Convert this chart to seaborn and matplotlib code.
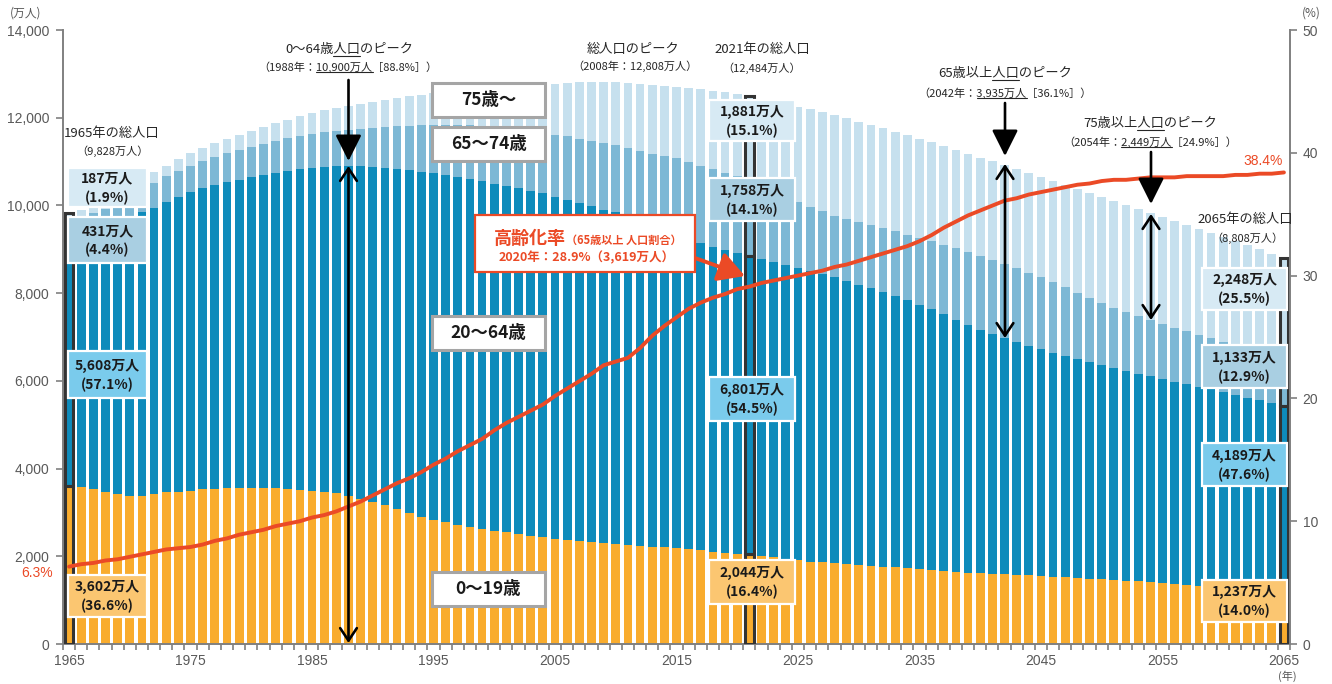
import numpy as np
import matplotlib
matplotlib.use("Agg")
import matplotlib.pyplot as plt
from matplotlib.patches import Rectangle
from matplotlib.lines import Line2D
import seaborn as sns

# ---------------------------------------------------------------- data (万人)
years = np.arange(1965, 2066)

age_0_19 = [
    3602, 3587, 3534, 3473, 3420, 3374, 3374, 3420, 3458, 3473,
    3496, 3527, 3542, 3550, 3557, 3557, 3550, 3550, 3534, 3512,
    3489, 3473, 3435, 3374, 3298, 3245, 3169, 3078, 2987, 2903,
    2835, 2775, 2714, 2668, 2622, 2577, 2547, 2508, 2470, 2432,
    2394, 2364, 2341, 2318, 2296, 2280, 2257, 2234, 2219, 2204,
    2181, 2166, 2143, 2105, 2075, 2052, 2044, 2006, 1975, 1940,
    1905, 1877, 1860, 1842, 1820, 1801, 1783, 1765, 1747, 1729,
    1710, 1690, 1670, 1650, 1630, 1611, 1598, 1586, 1574, 1562,
    1550, 1535, 1520, 1505, 1490, 1474, 1459, 1444, 1428, 1413,
    1398, 1375, 1352, 1330, 1315, 1300, 1287, 1275, 1262, 1250,
    1237,
]

age_20_64 = [
    5608, 5670, 5821, 5976, 6123, 6354, 6468, 6528, 6614, 6719,
    6811, 6866, 6919, 6975, 7027, 7084, 7140, 7184, 7250, 7317,
    7369, 7410, 7463, 7526, 7592, 7623, 7676, 7752, 7820, 7868,
    7896, 7909, 7926, 7928, 7926, 7912, 7898, 7878, 7868, 7859,
    7807, 7766, 7716, 7668, 7606, 7578, 7551, 7446, 7332, 7220,
    7141, 7059, 6995, 6956, 6913, 6862, 6801, 6776, 6743, 6709,
    6672, 6628, 6574, 6517, 6460, 6396, 6331, 6262, 6188, 6111,
    6030, 5939, 5844, 5746, 5650, 5560, 5475, 5392, 5316, 5244,
    5173, 5110, 5049, 4989, 4932, 4877, 4827, 4780, 4734, 4688,
    4642, 4606, 4570, 4533, 4489, 4444, 4395, 4344, 4293, 4238,
    4189,
]

age_65_74 = [
    431, 455, 467, 479, 499, 518, 544, 574, 588, 599,
    603, 616, 638, 660, 682, 699, 714, 733, 743, 754,
    776, 786, 802, 825, 857, 896, 942, 978, 1015, 1062,
    1109, 1156, 1200, 1241, 1267, 1303, 1338, 1359, 1377, 1378,
    1412, 1443, 1456, 1477, 1511, 1529, 1504, 1560, 1630, 1708,
    1755, 1759, 1765, 1759, 1744, 1747, 1758, 1712, 1627, 1547,
    1497, 1463, 1432, 1409, 1415, 1428, 1441, 1457, 1475, 1496,
    1522, 1557, 1594, 1630, 1662, 1682, 1687, 1686, 1677, 1662,
    1642, 1605, 1562, 1517, 1470, 1424, 1385, 1348, 1315, 1284,
    1258, 1235, 1214, 1193, 1173, 1153, 1142, 1136, 1133, 1133,
    1133,
]

age_75_over = [
    187, 192, 198, 205, 212, 221, 228, 238, 250, 266,
    284, 300, 318, 334, 350, 366, 386, 406, 427, 448,
    471, 497, 524, 550, 574, 597, 623, 649, 672, 694,
    717, 746, 776, 810, 852, 901, 949, 1004, 1054, 1110,
    1164, 1217, 1290, 1345, 1390, 1419, 1471, 1519, 1560, 1592,
    1632, 1700, 1750, 1798, 1845, 1872, 1881, 1937, 2030, 2120,
    2180, 2222, 2258, 2288, 2290, 2288, 2283, 2278, 2273, 2267,
    2260, 2252, 2246, 2241, 2238, 2239, 2243, 2249, 2256, 2265,
    2277, 2302, 2331, 2361, 2390, 2417, 2432, 2442, 2447, 2449,
    2446, 2438, 2427, 2415, 2401, 2387, 2365, 2338, 2309, 2278,
    2248,
]

# 高齢化率 (%)
aging_rate = [
    6.3, 6.5, 6.6, 6.8, 6.9, 7.1, 7.3, 7.5, 7.7, 7.8,
    7.9, 8.1, 8.4, 8.6, 8.9, 9.1, 9.3, 9.6, 9.8, 10.0,
    10.3, 10.5, 10.8, 11.2, 11.6, 12.1, 12.6, 13.1, 13.5, 14.0,
    14.6, 15.1, 15.7, 16.2, 16.7, 17.4, 18.0, 18.5, 19.0, 19.5,
    20.2, 20.8, 21.4, 22.0, 22.7, 23.0, 23.3, 24.1, 25.1, 25.9,
    26.6, 27.3, 27.8, 28.2, 28.5, 28.9, 29.1, 29.4, 29.6, 29.8,
    30.0, 30.2, 30.4, 30.7, 30.9, 31.2, 31.5, 31.8, 32.1, 32.4,
    32.8, 33.3, 33.9, 34.4, 34.9, 35.3, 35.7, 36.1, 36.3, 36.6,
    36.8, 37.0, 37.2, 37.4, 37.5, 37.7, 37.8, 37.8, 37.9, 38.0,
    38.0, 38.0, 38.1, 38.1, 38.1, 38.1, 38.2, 38.2, 38.3, 38.3,
    38.4,
]

highlight_years = [1965, 2021, 2065]
# shares (%) printed in the boxes: 0-19, 20-64, 65-74, 75+
share_1965 = [36.6, 57.1, 4.4, 1.9]
share_2021 = [16.4, 54.5, 14.1, 15.1]
share_2065 = [14.0, 47.6, 12.9, 25.5]

group_names = ["0～19歳", "20～64歳", "65～74歳", "75歳～"]
x_tick_years = list(range(1965, 2066, 10))
left_ticks = list(range(0, 14001, 2000))
right_ticks = [0, 10, 20, 30, 40, 50]

# ---------------------------------------------------------------- style
C_019 = "#F9AC2E"
C_2064 = "#0E8BBB"
C_6574 = "#7DB8D5"
C_75 = "#C6E0EE"
BOX_COLORS = ["#FBC671", "#7ACBEC", "#A9CFE2", "#D7EAF4"]
RED = "#EB4A26"
GRAY = "#595959"
AXIS = "#808080"
TXT = "#262626"

sns.set_theme(style="ticks")
plt.rcParams["font.family"] = ["Noto Sans CJK JP", "DejaVu Sans"]

W, H = 1332, 684
fig = plt.figure(figsize=(W / 100, H / 100), dpi=100)
ax = fig.add_axes([63 / W, 40 / H, (1290 - 63) / W, (644 - 30) / H])

seg = np.array([age_0_19, age_20_64, age_65_74, age_75_over], dtype=float)
cum = seg.cumsum(axis=0)
bar_colors = [C_019, C_2064, C_6574, C_75]

# stacked bars: tallest layer first, shorter cumulative layers drawn over it
for level in (3, 2, 1, 0):
    sns.barplot(x=years, y=cum[level], native_scale=True, orient="x",
                color=bar_colors[level], saturation=1, width=0.72,
                linewidth=0, errorbar=None, ax=ax)

# outlined bars for the highlighted years
for yr in highlight_years:
    i = yr - 1965
    bottoms = np.concatenate([[0.0], cum[:-1, i]])
    ax.bar([yr] * 4, seg[:, i], bottom=bottoms, width=0.72, fill=False,
           edgecolor="#333333", linewidth=2.2, zorder=3)

ax.set_xlim(1964.5, 2065.5)
ax.set_ylim(0, 14000)
ax.set_xlabel("")
ax.set_ylabel("")
ax.set_xticks(x_tick_years)
ax.set_xticklabels([str(y) for y in x_tick_years])
ax.set_xticks(np.arange(1964.5, 2066, 1.0), minor=True)
ax.set_yticks(left_ticks)
ax.set_yticklabels([f"{v:,}" for v in left_ticks])
ax.tick_params(axis="x", which="major", length=0, pad=7, labelsize=10, labelcolor=GRAY)
ax.tick_params(axis="x", which="minor", length=4, width=1.2, color=AXIS, direction="out")
ax.tick_params(axis="y", which="major", length=5, width=1.2, color=AXIS, direction="out",
               pad=5, labelsize=10, labelcolor=GRAY, left=True)
for side in ("top", "right"):
    ax.spines[side].set_visible(False)
for side in ("left", "bottom"):
    ax.spines[side].set_color(AXIS)
    ax.spines[side].set_linewidth(1.4)

# aging-rate line on the right axis
ax2 = ax.twinx()
sns.lineplot(x=years, y=aging_rate, ax=ax2, color=RED, linewidth=2.8, zorder=3)
ax2.set_ylim(0, 50)
ax2.set_xlim(1964.5, 2065.5)
ax2.set_ylabel("")
ax2.set_yticks(right_ticks)
ax2.set_yticklabels([str(v) for v in right_ticks])
ax2.tick_params(axis="y", length=5, width=1.2, color=AXIS, direction="out", pad=4,
                labelsize=10, labelcolor=GRAY, right=True)
for side in ("top", "left", "bottom"):
    ax2.spines[side].set_visible(False)
ax2.spines["right"].set_color(AXIS)
ax2.spines["right"].set_linewidth(1.4)

for lab in ax.get_xticklabels() + ax.get_yticklabels() + ax2.get_yticklabels():
    lab.set_fontfamily(["Liberation Sans", "DejaVu Sans"])


# ---------------------------------------------------------------- helpers (pixel coords, y from top)
def note(x, y, s, size, color=TXT, weight="normal", ha="center", va="center", family=None):
    kw = {"fontfamily": family} if family else {}
    return fig.text(x / W, 1 - y / H, s, fontsize=size, color=color, fontweight=weight,
                    ha=ha, va=va, zorder=7, **kw)


def box(x0, y0, x1, y1, face, edge, lw):
    fig.add_artist(Rectangle((x0 / W, 1 - y1 / H), (x1 - x0) / W, (y1 - y0) / H,
                             transform=fig.transFigure, facecolor=face, edgecolor=edge,
                             linewidth=lw, zorder=5))


renderer = fig.canvas.get_renderer()


def underline(t, sub):
    s = t.get_text()
    i = s.index(sub)
    bb = t.get_window_extent(renderer=renderer)

    def width(part):
        if not part:
            return 0.0
        tmp = fig.text(0, 0, part, fontproperties=t.get_fontproperties())
        w = tmp.get_window_extent(renderer=renderer).width
        tmp.remove()
        return w

    x0 = bb.x0 + width(s[:i])
    x1 = bb.x0 + width(s[:i + len(sub)])
    yy = bb.y0 + 1
    fig.add_artist(Line2D([x0 / W, x1 / W], [yy / H, yy / H], transform=fig.transFigure,
                          color=t.get_color(), linewidth=0.8, zorder=7))


def arrow(x0, y0, x1, y1, style, lw=1.9, ms=20, color="black"):
    ax2.annotate("", xy=(x1, H - y1), xytext=(x0, H - y0), xycoords="figure pixels",
                 textcoords="figure pixels", annotation_clip=False, zorder=6,
                 arrowprops=dict(arrowstyle=style, color=color, lw=lw, mutation_scale=ms,
                                 shrinkA=0, shrinkB=0))


def value_box(x0, y0, x1, y1, level, idx, share):
    box(x0, y0, x1, y1, BOX_COLORS[level], "white", 1.6)
    cx, cy = (x0 + x1) / 2, (y0 + y1) / 2
    note(cx, cy - 9, f"{int(seg[level, idx]):,}万人", 10, color="#1a1a1a", weight="bold")
    note(cx, cy + 10, f"({share:.1f}%)", 10, color="#1a1a1a", weight="bold")


# ---------------------------------------------------------------- value boxes
i65, i21, i2065 = 0, 2021 - 1965, 2065 - 1965
rows_1965 = [(575, 617), (351, 398), (217, 263), (168, 207)]
rows_2021 = [(560, 604), (377, 421), (178, 221), (100, 141)]
rows_2065 = [(580, 622), (443, 486), (345, 388), (268, 310)]
for lv in range(4):
    value_box(68, rows_1965[lv][0], 147, rows_1965[lv][1], lv, i65, share_1965[lv])
    value_box(709, rows_2021[lv][0], 795, rows_2021[lv][1], lv, i21, share_2021[lv])
    value_box(1202, rows_2065[lv][0], 1287, rows_2065[lv][1], lv, i2065, share_2065[lv])

# age-group name boxes
name_rows = [(572, 606), (316, 350), (127, 161), (83, 117)]
for lv in range(4):
    y0, y1 = name_rows[lv]
    box(432, y0, 545, y1, "white", "#A5A5A5", 2.2)
    note(488.5, (y0 + y1) / 2, group_names[lv], 12.5, color="#1a1a1a", weight="bold")

# ---------------------------------------------------------------- annotations
note(112, 133, "1965年の総人口", 9.5)
note(112, 151, "（9,828万人）", 8)

t = note(349, 50, "0～64歳人口のピーク", 9.5)
underline(t, "人口")
t = note(348, 67, "（1988年：10,900万人［88.8%］）", 8)
underline(t, "10,900万人")

note(633, 49, "総人口のピーク", 9.5)
note(635, 66, "（2008年：12,808万人）", 8)

note(762, 50, "2021年の総人口", 9.5)
note(762, 68, "（12,484万人）", 8)

t = note(1005, 74, "65歳以上人口のピーク", 9.5)
underline(t, "人口")
t = note(1005, 93, "（2042年：3,935万人［36.1%］）", 8)
underline(t, "3,935万人")

t = note(1150, 124, "75歳以上人口のピーク", 9.5)
underline(t, "人口")
t = note(1150, 142, "（2054年：2,449万人［24.9%］）", 8)
underline(t, "2,449万人")

note(1245, 219, "2065年の総人口", 9.5)
note(1247, 238, "（8,808万人）", 8)

# peak arrows
head = "-|>,head_length=0.8,head_width=0.4"
span = "<->,head_length=0.45,head_width=0.3"
arrow(348.5, 80, 348.5, 161, head)
arrow(348.5, 166, 348.5, 643, span)
arrow(1005, 103, 1005, 156, head)
arrow(1005, 164, 1005, 338, span)
arrow(1151, 152, 1151, 204, head)
arrow(1151, 214, 1151, 320, span)

# aging-rate call-out
box(475, 215, 695, 272, "white", RED, 1.6)
note(566, 244, "高齢化率", 13, color=RED, weight="bold", ha="right", va="baseline")
note(566, 244, "（65歳以上 人口割合）", 8, color=RED, weight="bold", ha="left", va="baseline")
note(587, 258, "2020年：28.9%（3,619万人）", 9, color=RED, weight="bold")
arrow(695, 258, 745, 276, "-|>,head_length=0.8,head_width=0.45", lw=2.8, ms=20, color=RED)

# ends of the rate line
note(37, 573, f"{aging_rate[0]}%", 10, color=RED, family=["Liberation Sans", "DejaVu Sans"])
note(1263, 161, f"{aging_rate[-1]}%", 10, color=RED, family=["Liberation Sans", "DejaVu Sans"])

# units
note(26, 13, "(万人)", 8.5, color=GRAY)
note(1311, 13, "(%)", 8.5, color=GRAY)
note(1287, 676, "(年)", 8, color=GRAY)

fig.savefig("out.png", dpi=100, facecolor="white")
